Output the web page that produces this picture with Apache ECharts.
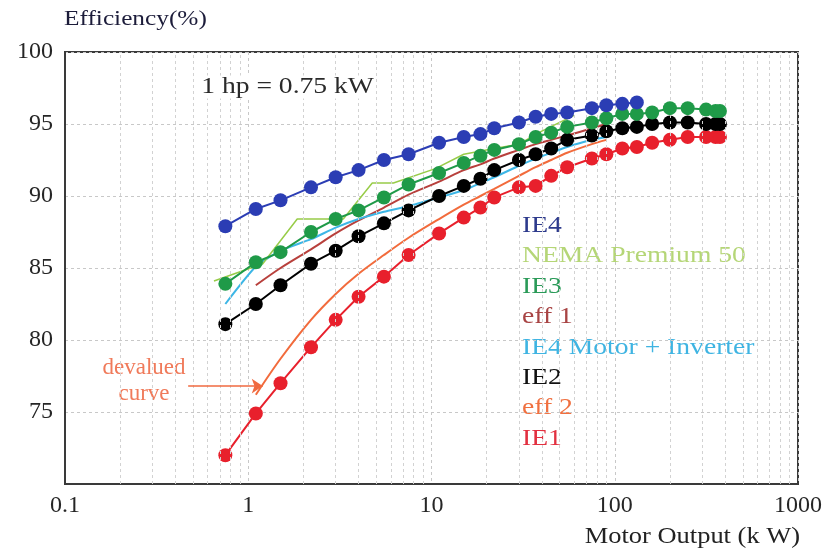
<!DOCTYPE html>
<html>
<head>
<meta charset="utf-8">
<script src="https://cdn.jsdelivr.net/npm/echarts@6/dist/echarts.min.js"></script>
<style>
html, body { margin: 0; padding: 0; background: #fff; }
#chart { width: 826px; height: 552px; }
</style>
</head>
<body>
<div id="chart"></div>
<script>
// motor rated outputs (kW)
const sizes = [0.75, 1.1, 1.5, 2.2, 3, 4, 5.5, 7.5, 11, 15, 18.5, 22, 30, 37, 45, 55, 75, 90, 110, 132, 160, 200, 250, 315, 355, 375];
const effSizes = [1.1, 1.5, 2.2, 3, 4, 5.5, 7.5, 11, 15, 18.5, 22, 30, 37, 45, 55, 75, 90];
const nemaSizes = [0.65, 1.2, 1.85, 3.3, 4.75, 6.2, 10.5, 15, 22, 30, 40, 60];

// efficiency (%)
const ie4 = [87.9, 89.1, 89.7, 90.6, 91.3, 91.8, 92.5, 92.9, 93.7, 94.1, 94.3, 94.7, 95.1, 95.5, 95.7, 95.8, 96.1, 96.3, 96.4, 96.5];
const nema = [84.1, 85.3, 88.4, 88.4, 90.9, 90.9, 91.9, 92.9, 93.3, 93.6, 94.5, 95.6];
const ie3 = [83.9, 85.4, 86.1, 87.5, 88.4, 89.0, 89.9, 90.8, 91.6, 92.3, 92.8, 93.2, 93.6, 94.1, 94.4, 94.8, 95.1, 95.4, 95.7, 95.7, 95.8, 96.1, 96.1, 96.0, 95.9, 95.9];
const eff1 = [83.8, 85.0, 86.3, 87.4, 88.3, 89.2, 90.1, 91.0, 91.8, 92.2, 92.6, 93.2, 93.6, 93.9, 94.2, 94.7, 95.0];
const ie4Inv = [82.5, 85.1, 86.2, 87.0, 87.8, 88.4, 88.9, 89.3, 89.9, 90.4, 90.9, 91.3, 92.1, 92.6, 93.0, 93.4, 93.9, 94.1];
const ie2 = [81.1, 82.5, 83.8, 85.3, 86.2, 87.2, 88.1, 89.0, 90.0, 90.7, 91.2, 91.8, 92.5, 92.9, 93.3, 93.9, 94.2, 94.5, 94.7, 94.8, 95.0, 95.1, 95.1, 95.0, 95.0, 95.0];
const eff2 = [76.2, 78.7, 81.4, 83.2, 84.6, 85.9, 87.1, 88.4, 89.4, 90.0, 90.5, 91.4, 92.0, 92.5, 93.0, 93.6, 93.9];
const ie1 = [72.0, 74.9, 77.0, 79.5, 81.4, 83.0, 84.4, 85.9, 87.4, 88.5, 89.2, 89.9, 90.6, 90.7, 91.4, 92.0, 92.6, 92.9, 93.3, 93.4, 93.7, 93.9, 94.1, 94.1, 94.1, 94.1];

// minor log grid lines
const minorTicks = [0.2, 0.3, 0.4, 0.5, 0.6, 0.7, 0.8, 0.9, 2, 3, 4, 5, 6, 7, 8, 9,
    20, 30, 40, 50, 60, 70, 80, 90, 200, 300, 400, 500, 600, 700, 800, 900];

const pairs = (xs, ys) => ys.map((y, i) => [xs[i], y]);
const serif = 'Liberation Serif';

const legendItems = [
    { name: 'IE4', color: '#2d3a8c' },
    { name: 'NEMA Premium 50', color: '#b5d677' },
    { name: 'IE3', color: '#2a9a58' },
    { name: 'eff 1', color: '#a84444' },
    { name: 'IE4 Motor + Inverter', color: '#3fb4e2' },
    { name: 'IE2', color: '#111111' },
    { name: 'eff 2', color: '#f07040' },
    { name: 'IE1', color: '#e23040' }
];

const dotted = (name, xs, ys, color, z) => ({
    name: name,
    type: 'line',
    data: pairs(xs, ys),
    symbol: 'circle',
    symbolSize: 14,
    itemStyle: { color: color },
    lineStyle: { color: color, width: 2 },
    z: z
});
const plain = (name, xs, ys, color, width, z, smooth) => ({
    name: name,
    type: 'line',
    data: pairs(xs, ys),
    symbol: 'none',
    smooth: smooth,
    lineStyle: { color: color, width: width },
    z: z
});

const chart = echarts.init(document.getElementById('chart'));
const option = {
    animation: false,
    backgroundColor: '#fff',
    grid: { left: 65, right: 28, top: 52, bottom: 68, show: true, borderColor: '#3a3a3a', borderWidth: 2 },
    xAxis: {
        type: 'log',
        logBase: 10,
        min: 0.1,
        max: 1000,
        axisLine: { show: true, lineStyle: { color: '#3a3a3a', width: 2 } },
        axisTick: { show: false },
        axisLabel: {
            margin: 10,
            fontFamily: serif,
            fontSize: 24,
            color: '#262626',
            formatter: v => String(+(+v).toPrecision(2))
        },
        splitLine: { show: true, lineStyle: { color: '#c8c8c8', type: [3, 3], width: 1 } }
    },
    yAxis: {
        type: 'value',
        min: 70,
        max: 100,
        interval: 5,
        axisLine: { show: true, lineStyle: { color: '#3a3a3a', width: 2 } },
        axisTick: { show: false },
        axisLabel: {
            margin: 12,
            fontFamily: serif,
            fontSize: 24,
            color: '#262626',
            formatter: v => (v === 70 ? '' : v)
        },
        splitLine: { show: true, lineStyle: { color: '#c8c8c8', type: [3, 3], width: 1 } }
    },
    graphic: [
        { type: 'text', x: 64, y: 19, scaleX: 1.15, style: { text: 'Efficiency(%)', font: '22px "Liberation Serif"', fill: '#1c1c3a', verticalAlign: 'middle' } },
        { type: 'text', x: 800, y: 537, scaleX: 1.15, style: { text: 'Motor Output (k W)', font: '23px "Liberation Serif"', fill: '#222', align: 'right', verticalAlign: 'middle' } },
        { type: 'text', x: 200, y: 87, scaleX: 1.2, z: 10, style: { text: '1 hp = 0.75 kW', font: '23px "Liberation Serif"', fill: '#2a2a2a', verticalAlign: 'middle', backgroundColor: '#fff', padding: [0, 1] } },
        { type: 'text', x: 144, y: 368, style: { text: 'devalued', font: '23px "Liberation Serif"', fill: '#f07a5a', align: 'center', verticalAlign: 'middle' } },
        { type: 'text', x: 144, y: 394, style: { text: 'curve', font: '23px "Liberation Serif"', fill: '#f07a5a', align: 'center', verticalAlign: 'middle' } }
    ].concat(legendItems.map((it, i) => ({
        type: 'text',
        x: 522,
        y: 226 + i * 30.4,
        scaleX: 1.2,
        style: { text: it.name, font: '23px "Liberation Serif"', fill: it.color, verticalAlign: 'middle' }
    }))),
    series: [
        {
            name: 'grid',
            type: 'line',
            data: [],
            silent: true,
            z: 1,
            markLine: {
                silent: true,
                symbol: 'none',
                label: { show: false },
                lineStyle: { color: '#d2d2d2', type: [3, 3], width: 1 },
                data: minorTicks.map(v => ({ xAxis: v }))
            }
        },
        Object.assign(plain('eff 2', effSizes, eff2, '#f26b3c', 2, 3, 0.3), {
            markLine: {
                silent: true,
                symbol: ['none', 'arrow'],
                symbolSize: 11,
                label: { show: false },
                lineStyle: { color: '#f06a40', width: 1.5, type: 'solid' },
                data: [[{ coord: [0.47, 76.8] }, { coord: [1.2, 76.8] }]]
            }
        }),
        plain('eff 1', effSizes, eff1, '#b8403c', 2, 3, 0.3),
        plain('IE4 Motor + Inverter', sizes, ie4Inv, '#3cb6e6', 2, 3, 0.2),
        plain('NEMA Premium 50', nemaSizes, nema, '#98cc48', 1.5, 3, false),
        dotted('IE1', sizes, ie1, '#e8202c', 4),
        dotted('IE2', sizes, ie2, '#000000', 4),
        dotted('IE3', sizes, ie3, '#1f9a48', 5),
        dotted('IE4', sizes, ie4, '#2b3db4', 6)
    ]
};
chart.setOption(option);
</script>
</body>
</html>
